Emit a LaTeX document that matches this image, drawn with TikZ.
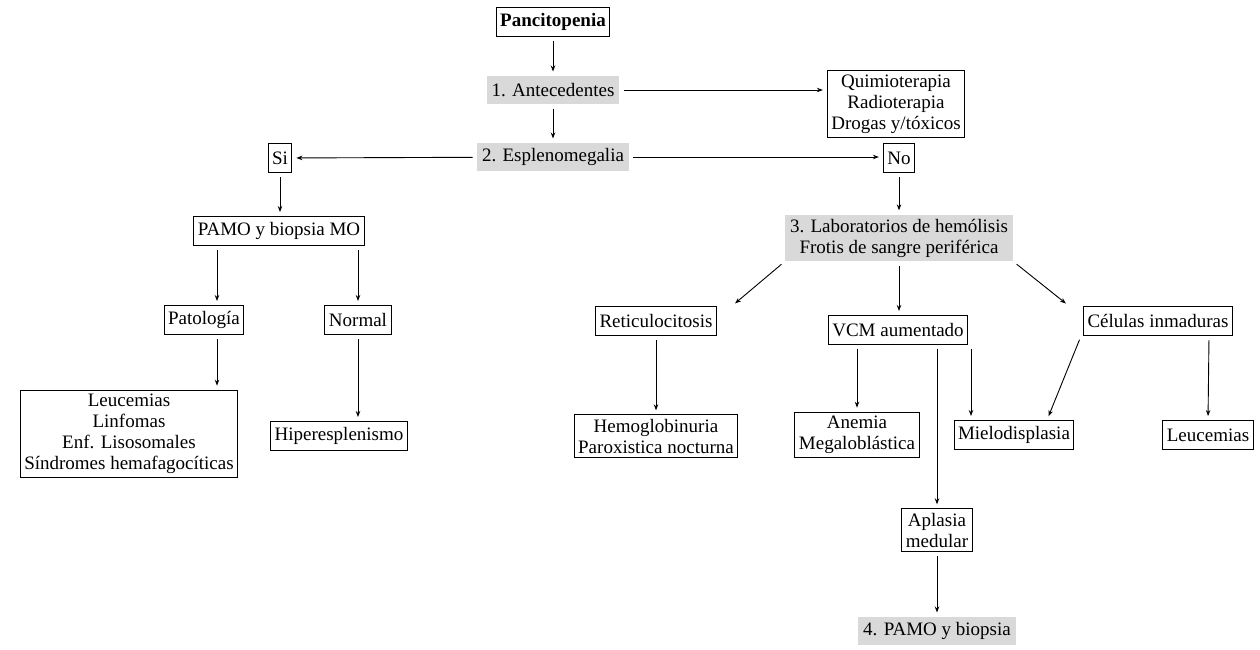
\documentclass[tikz,border=0pt]{standalone}
\usepackage{fontspec}
\setmainfont{Liberation Serif}
\usetikzlibrary{arrows.meta}

\tikzset{
    caja/.style={draw=black, line width=1pt, fill=white, align=center,
        inner xsep=4pt, inner ysep=4pt, minimum height=29pt},
    paso/.style={draw=none, fill=black!15, align=center, inner xsep=5pt, inner ysep=4pt,
        minimum height=28pt},
    flecha/.style={-{Stealth[length=6pt,width=4.5pt]}, line width=0.9pt,
        shorten <=4pt, shorten >=4pt}
}

\begin{document}
\begin{tikzpicture}[x=1pt, y=-1pt, font=\fontsize{19}{21}\selectfont]
        \useasboundingbox (0,0) rectangle (1260,649);
        \begin{scope}[every node/.style={caja}]
            \node (panci) at (553,22) {\textbf{Pancitopenia}};
            \node[paso] (ante) at (553,90) {1. Antecedentes};
            \node (quimio) at (896,104) {Quimioterapia\\Radioterapia\\Drogas y/tóxicos};
            \node[paso] (esple) at (553,157) {2. Esplenomegalia};

            \node (si) at (280,158) {Si};
            \node (pamo) at (279,231) {PAMO y biopsia MO};
            \node (pato) at (204,320) {Patología};
            \node (normal) at (358,320) {Normal};
            \node (leuc) at (129,434) {Leucemias\\Linfomas\\Enf. Lisosomales\\Síndromes hemafagocíticas};
            \node (hiper) at (339,436) {Hiperesplenismo};

            \node (no) at (899,158) {No};
            \node[paso] (lab) at (899,238) {3. Laboratorios de hemólisis\\Frotis de sangre periférica};
            \node (reti) at (656,321) {Reticulocitosis};
            \node (vcm) at (898,330) {VCM aumentado};
            \node (cel) at (1158,321) {Células inmaduras};
            \node (hemo) at (656,436) {Hemoglobinuria\\Paroxistica nocturna};
            \node (anemia) at (857,435) {Anemia\\Megaloblástica};
            \node (mielo) at (1014,435) {Mielodisplasia};
            \node (leuc2) at (1208,435) {Leucemias};
            \node (apla) at (937,530) {Aplasia\\medular};
            \node[paso] (pamo4) at (937,631) {4. PAMO y biopsia};
        \end{scope}
        \begin{scope}[every edge/.style={draw,flecha}]
            \path (panci) edge (ante);
            \path (ante) edge (ante -| quimio.west);
            \path (ante) edge (esple);
            \path (esple) edge (si);
            \path (esple) edge (esple -| no.west);

            \path (si.south) edge (si.south |- pamo.north);
            \path ([xshift=-62pt]pamo.south) edge ([xshift=13pt]pato.north);
            \path ([xshift=79pt]pamo.south) edge (normal.north);
            \path ([xshift=13pt]pato.south) edge ([xshift=88pt]leuc.north);
            \path (normal.south) edge ([xshift=19pt]hiper.north);

            \path (no) edge (lab);
            \path (lab.south west) edge ([xshift=15pt]reti.north east);
            \path (lab.south) edge (lab.south |- vcm.north);
            \path (lab.south east) edge ([xshift=-14pt]cel.north west);
            \path (reti.south) edge (reti.south |- hemo.north);

            \path (vcm.south -| anemia.north) edge (anemia.north);
            \path (vcm.south -| apla.north) edge (apla.north);
            \path ([xshift=73pt]vcm.south) edge ([xshift=-43pt]mielo.north);
            \path ([xshift=-77pt]cel.south) edge ([xshift=33pt]mielo.north);
            \path ([xshift=51pt]cel.south) edge (leuc2.north);
            \path (apla) edge (pamo4);
        \end{scope}
    \end{tikzpicture}
\end{document}
